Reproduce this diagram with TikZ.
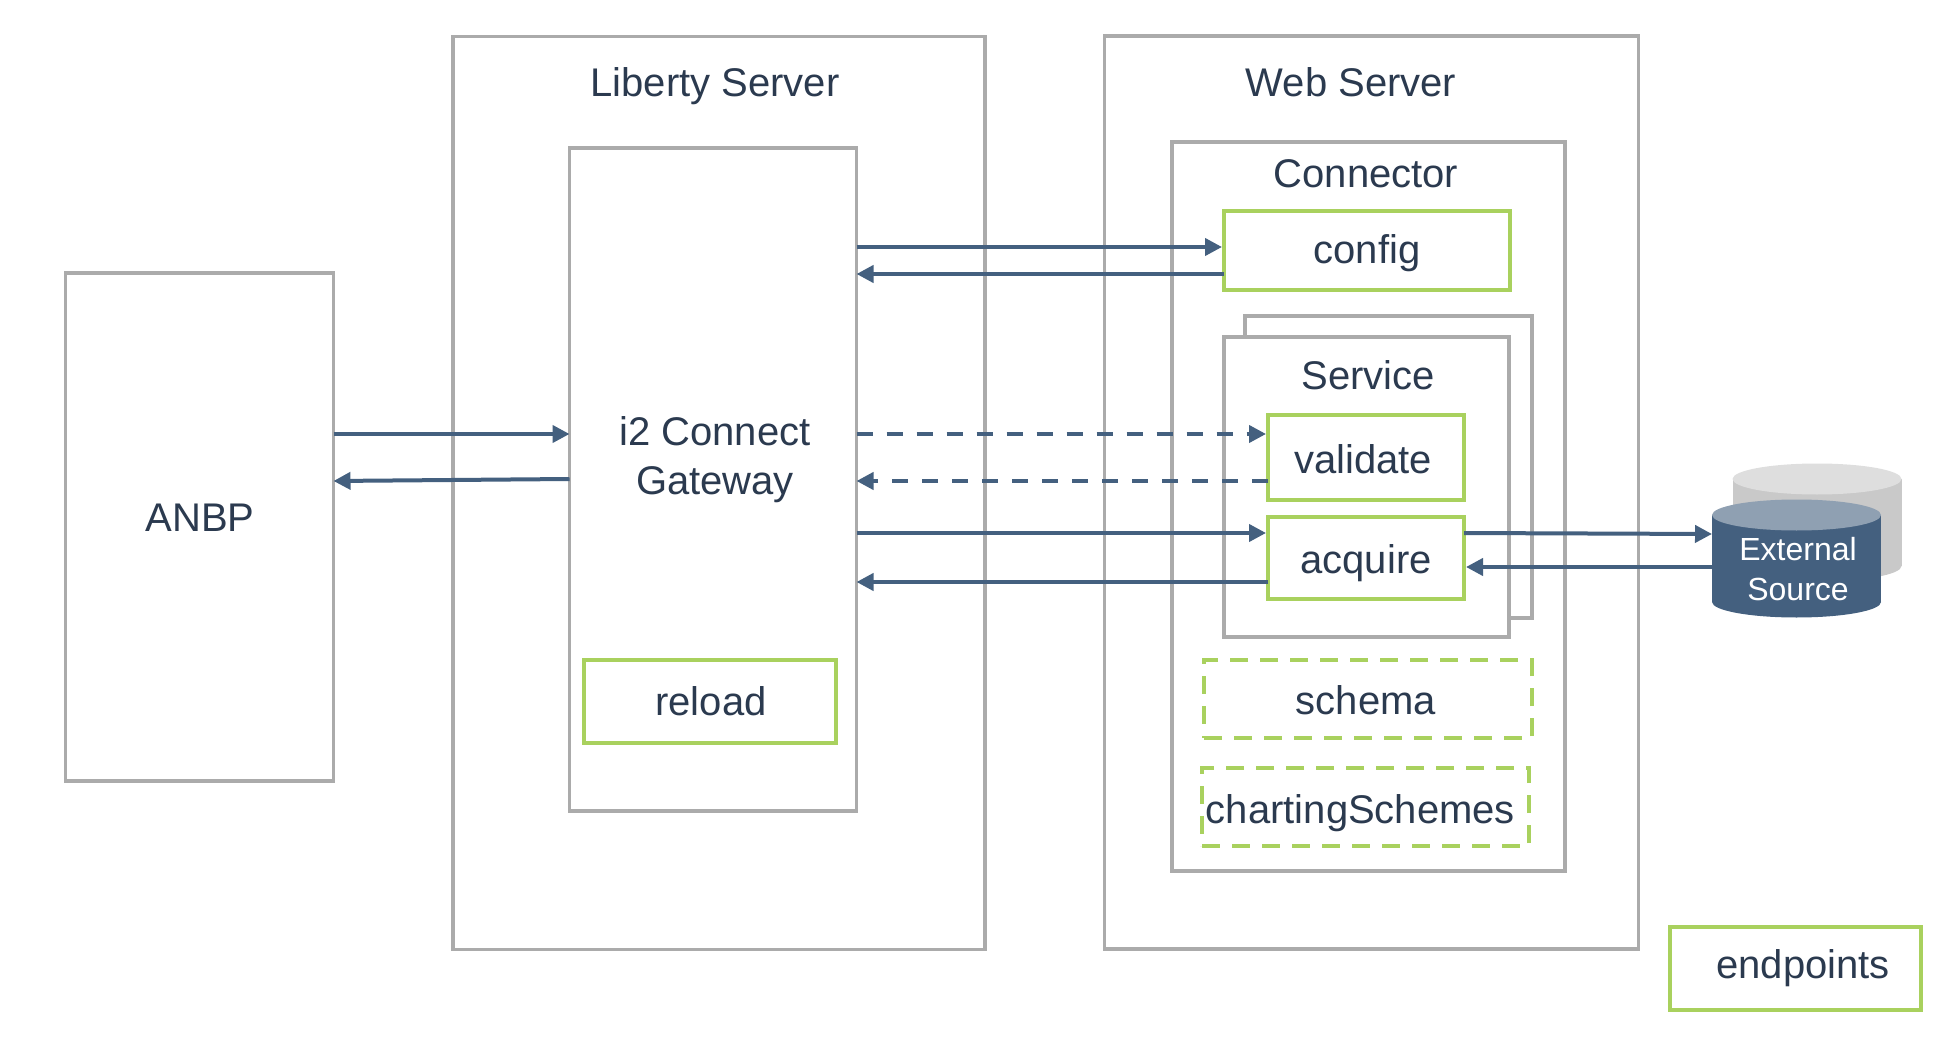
\documentclass[tikz,border=0pt]{standalone}
\usepackage{fontspec}
\setmainfont{Liberation Sans}
\usetikzlibrary{arrows.meta}
\usetikzlibrary{shapes.geometric}
\definecolor{boxgray}{HTML}{ABABAB}
\definecolor{epgreen}{HTML}{A9D15E}
\definecolor{linkblue}{HTML}{44607F}
\definecolor{labelnavy}{HTML}{2B3A4F}
\tikzset{
  graybox/.style={draw=boxgray, line width=3.5pt, fill=white, inner sep=0pt, outer sep=0pt},
  epbox/.style={draw=epgreen, line width=4pt, fill=white, inner sep=0pt, outer sep=0pt},
  optbox/.style={epbox, dash pattern=on 18pt off 12pt},
  title/.style={text=labelnavy, font=\fontsize{40}{48.5}\selectfont, align=center, inner sep=0pt},
  link/.style={draw=linkblue, line width=4pt, -{Triangle[length=17pt,width=17pt]}},
  eplink/.style={link, shorten >=2pt},
  dashlink/.style={link, dash pattern=on 16.5pt off 13.5pt},
  storebody/.style={inner sep=0pt, outer sep=0pt, minimum width=169pt, minimum height=87pt},
  storecap/.style={shape=ellipse, inner sep=0pt, outer sep=0pt, minimum width=169pt, minimum height=31pt},
}
\begin{document}
\begin{tikzpicture}[x=1pt,y=-1pt]
  \useasboundingbox (0,0) rectangle (1946,1040);
  % cajas grandes
  \node[graybox, minimum width=268pt, minimum height=508pt] (anbp) at (199.5,527) {};
  \node[graybox, minimum width=532pt, minimum height=913pt] (liberty) at (719,493) {};
  \node[graybox, minimum width=287pt, minimum height=663pt] (gateway) at (713,479.5) {};
  \node[graybox, minimum width=534pt, minimum height=913pt] (web) at (1371.5,492.5) {};
  \node[graybox, minimum width=393pt, minimum height=729pt] (connector) at (1368.5,506.5) {};
  % dos cajas de servicio
  \node[graybox, minimum width=287pt, minimum height=302pt] (serviceback) at (1388.5,467) {};
  \node[graybox, line width=4.5pt, minimum width=285pt, minimum height=300pt] (service) at (1366.5,487) {};
  % titulos
  \node[title] (anbplabel) at (200,518) {ANBP};
  \node[title] (libertylabel) at (715,86) {Liberty Server};
  \node[title] (gatewaylabel) at (715,459.5) {i2 Connect\\Gateway};
  \node[title] (weblabel) at (1351,82) {Web Server};
  \node[title] (connectorlabel) at (1366,174) {Connector};
  \node[title] (servicelabel) at (1368,375) {Service};
  % endpoints
  \node[epbox, minimum width=286pt, minimum height=79pt] (config) at (1367,250.5) {};
  \node[epbox, minimum width=196pt, minimum height=85pt] (validate) at (1366,457.5) {};
  \node[epbox, minimum width=196pt, minimum height=82pt] (acquire) at (1366,558) {};
  \node[epbox, minimum width=252pt, minimum height=83pt] (reload) at (710,701.5) {};
  \node[optbox, minimum width=328pt, minimum height=78pt] (schema) at (1368,699) {};
  \node[optbox, minimum width=327pt, minimum height=78pt] (charting) at (1365.5,807) {};
  \node[epbox, minimum width=251pt, minimum height=83pt] (endpoints) at (1795.5,968.5) {};
  \node[title] (configlabel) at (1367,253) {config};
  \node[title] (validatelabel) at (1363,459.5) {validate};
  \node[title] (acquirelabel) at (1366,563) {acquire};
  \node[title] (reloadlabel) at (711,701) {reload};
  \node[title] (schemalabel) at (1366,700) {schema};
  \node[title] (chartinglabel) at (1360.5,813) {chartingSchemes};
  \node[title] (endpointslabel) at (1803,968.5) {endpoints};
  % cilindro de atras
  \node[storecap, fill=black!21] (backbottom) at (1817,566) {};
  \node[storebody, fill=black!21] (backbody) at (1817,522.5) {};
  \node[storecap, fill=black!13] (backtop) at (1817,479) {};
  % cilindro de adelante
  \node[storecap, fill=linkblue] (sourcebottom) at (1796.5,602) {};
  \node[storebody, fill=linkblue] (source) at (1796.5,558.5) {};
  \node[storecap, fill=linkblue!60] (sourcetop) at (1796.5,515) {};
  \node[text=white, font=\fontsize{32}{40}\selectfont, align=center, inner sep=0pt] (sourcelabel) at (1798,569) {External\\Source};
  % flechas
  \draw[link] (anbp.east |- 0,434) -- (gateway.west |- 0,434);
  \draw[link] (gateway.west |- 0,479) -- (anbp.east |- 0,481);
  \draw[eplink] (gateway.east |- 0,247) -- (config.west |- 0,247);
  \draw[link] (config.west |- 0,274) -- (gateway.east |- 0,274);
  \draw[dashlink, shorten >=2pt] (gateway.east |- 0,434) -- (validate.west |- 0,434);
  \draw[dashlink] (validate.west |- 0,481) -- (gateway.east |- 0,481);
  \draw[eplink] (gateway.east |- 0,533) -- (acquire.west |- 0,533);
  \draw[link] (acquire.west |- 0,582) -- (gateway.east |- 0,582);
  \draw[link] (acquire.east |- 0,533) -- (source.west |- 0,534);
  \draw[eplink] (source.west |- 0,567) -- (acquire.east |- 0,567);
\end{tikzpicture}
\end{document}
